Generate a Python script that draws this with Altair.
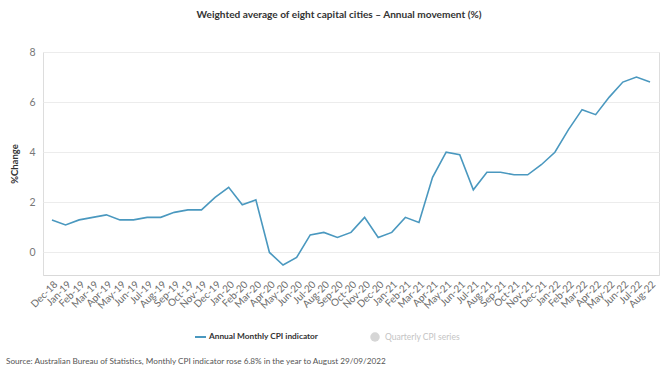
import altair as alt
import pandas as pd

months = ["Dec-18", "Jan-19", "Feb-19", "Mar-19", "Apr-19", "May-19", "Jun-19", "Jul-19",
          "Aug-19", "Sep-19", "Oct-19", "Nov-19", "Dec-19", "Jan-20", "Feb-20", "Mar-20",
          "Apr-20", "May-20", "Jun-20", "Jul-20", "Aug-20", "Sep-20", "Oct-20", "Nov-20",
          "Dec-20", "Jan-21", "Feb-21", "Mar-21", "Apr-21", "May-21", "Jun-21", "Jul-21",
          "Aug-21", "Sep-21", "Oct-21", "Nov-21", "Dec-21", "Jan-22", "Feb-22", "Mar-22",
          "Apr-22", "May-22", "Jun-22", "Jul-22", "Aug-22"]
values = [1.3, 1.1, 1.3, 1.4, 1.5, 1.3, 1.3, 1.4,
          1.4, 1.6, 1.7, 1.7, 2.2, 2.6, 1.9, 2.1,
          0.0, -0.5, -0.2, 0.7, 0.8, 0.6, 0.8, 1.4,
          0.6, 0.8, 1.4, 1.2, 3.0, 4.0, 3.9, 2.5,
          3.2, 3.2, 3.1, 3.1, 3.5, 4.0, 4.9, 5.7,
          5.5, 6.2, 6.8, 7.0, 6.8]
y_ticks = [0, 2, 4, 6, 8]
legend_labels = ["Annual Monthly CPI indicator", "Quarterly CPI series"]
title_text = "Weighted average of eight capital cities \u2013 Annual movement (%)"
source_text = ["Source: Australian Bureau of Statistics, Monthly CPI indicator rose 6.8% in the year to August 29/09/2022"]
y_title = "%Change"

FONT = "Lato"
BLUE = "#4a98bf"

df = pd.DataFrame({"month": months, "value": values})

line = alt.Chart(df).mark_line(color=BLUE, strokeWidth=1.6).encode(
    x=alt.X("month:O", sort=months,
            scale=alt.Scale(type="point", padding=0.66),
            axis=alt.Axis(title=None, labelAngle=-45, labelFontSize=10, labelColor="#6b6b6b",
                          ticks=False, domain=True, domainColor="#d9d9d9", labelPadding=4,
                          grid=False, labelFont=FONT)),
    y=alt.Y("value:Q",
            scale=alt.Scale(domain=[-0.9, 8], nice=False, zero=False),
            axis=alt.Axis(values=y_ticks, title=y_title, ticks=False, domain=False,
                          labelFontSize=10.5, labelColor="#777777", labelPadding=8,
                          titleFontSize=9.5, titleFontWeight=700, titleColor="#333333",
                          titlePadding=9, grid=True, gridColor="#ececec", labelFont=FONT,
                          titleFont=FONT)),
)

leg1 = pd.DataFrame({"label": [legend_labels[0]]})
leg2 = pd.DataFrame({"label": [legend_labels[1]]})
src = pd.DataFrame({"label": source_text})

leg_rule = alt.Chart(leg1).mark_rule(color=BLUE, strokeWidth=2).encode(
    x=alt.value(152), x2=alt.value(163), y=alt.value(285))
leg_text1 = alt.Chart(leg1).mark_text(align="left", baseline="middle", fontSize=8.3,
                                      font=FONT, fontWeight=700, color="#333333").encode(
    x=alt.value(166), y=alt.value(285), text="label:N")
leg_pt = alt.Chart(leg2).mark_point(filled=True, size=90, color="#d6d6d6", opacity=1).encode(
    x=alt.value(332), y=alt.value(285))
leg_text2 = alt.Chart(leg2).mark_text(align="left", baseline="middle", fontSize=8.5,
                                      font=FONT, color="#c4c4c4").encode(
    x=alt.value(342), y=alt.value(285), text="label:N")
src_text = alt.Chart(src).mark_text(align="left", baseline="middle", fontSize=8.2,
                                    font=FONT, color="#555555").encode(
    x=alt.value(-37), y=alt.value(310), text="label:N")

chart = alt.layer(line, leg_rule, leg_text1, leg_pt, leg_text2, src_text).properties(
    width=616, height=223,
    title=alt.TitleParams(title_text, fontSize=10.1, fontWeight=700, color="#333333",
                          font=FONT, anchor="middle", offset=27, dx=-12),
    padding={"left": 43, "top": 52, "right": 9, "bottom": 101},
    autosize=alt.AutoSizeParams(type="none"),
).configure_view(stroke=None).configure(background="white")

chart.save("out.html", embed_options={"renderer": "svg", "actions": False})
